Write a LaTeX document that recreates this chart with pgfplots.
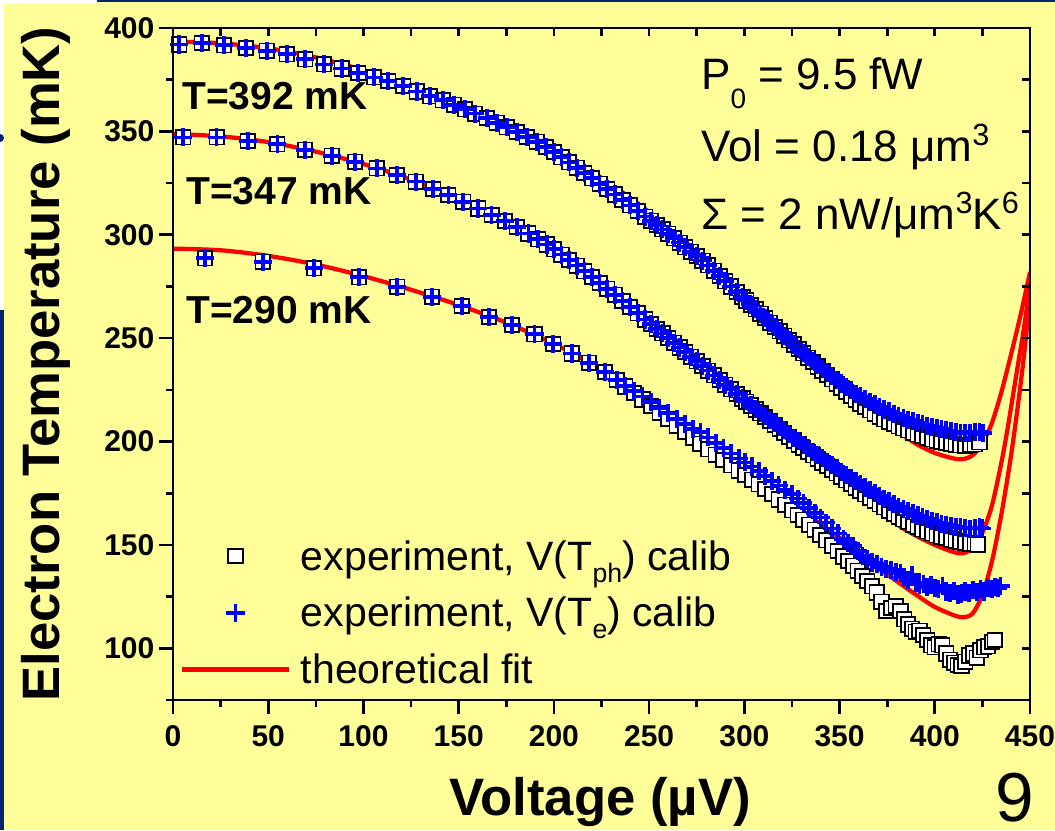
\documentclass[border=0pt]{standalone}
\usepackage{pgfplots}
\pgfplotsset{compat=1.18}
\usepackage{fontspec}
\setmainfont{Liberation Sans}
\definecolor{bg}{RGB}{255,255,153}
\definecolor{navy}{RGB}{0,36,112}
\definecolor{fitred}{RGB}{255,0,0}
\definecolor{plblue}{RGB}{0,0,255}
\newcommand\ticklabfont{\fontsize{22.5bp}{27bp}\selectfont\bfseries}
\newcommand\axlabfont{\fontsize{39.5bp}{46bp}\selectfont\bfseries}
\newcommand\annbfont{\fontsize{29.25bp}{35bp}\selectfont\bfseries}
\newcommand\annfont{\fontsize{33bp}{40bp}\selectfont}
\newcommand\legfont{\fontsize{30.75bp}{37bp}\selectfont}
\newcommand\lsub[1]{\raisebox{-9bp}{\fontsize{20bp}{20bp}\selectfont #1}}
\newcommand\asub[1]{\raisebox{-14bp}{\fontsize{21bp}{21bp}\selectfont #1}}
\newcommand\asup[1]{\raisebox{12bp}{\fontsize{23bp}{23bp}\selectfont #1}}
\begin{document}
\begin{tikzpicture}[x=0.75bp,y=0.75bp]
\fill[bg] (0,0) rectangle (1055,830);
\fill[white] (0,520) rectangle (4,830);
\fill[white] (0,827) rectangle (97,830);
\fill[navy] (0,0) rectangle (4,520);
\fill[navy] (97,827.5) rectangle (1055,830);
\fill[navy] (0,692) circle (4);
\begin{axis}[
  at={(129.75bp,97.5bp)}, anchor=south west,
  scale only axis, width=642.75bp, height=504bp,
  xmin=0, xmax=450, ymin=75, ymax=400,
  axis line style={line width=2bp},
  every tick/.style={black, line width=2bp},
  tick align=outside, xtick pos=left, ytick pos=left,
  major tick length=10.5bp, minor tick length=5.25bp,
  xtick={0,50,...,450}, minor xtick={25,75,...,425},
  ytick={100,150,...,400}, minor ytick={75,125,...,375},
  /pgf/number format/assume math mode=true,
  tick label style={font=\ticklabfont},
  xticklabel style={yshift=-5bp},
  legend cell align=left,
  legend image code/.code={\draw[mark repeat=2,mark phase=2,#1] plot coordinates {(0bp,2.5bp) (40bp,2.5bp) (80bp,2.5bp)};},
  legend style={at={(axis cs:3.7,153.3)}, anchor=north west, draw=none, fill=none,
    font=\legfont, inner sep=0pt, outer sep=0pt, row sep=10.5bp,
    nodes={inner sep=0pt, text height=24bp, text depth=8bp},
    /tikz/every odd column/.append style={column sep=7.5bp}},
  fitst/.style={fitred, line width=3.2bp, no markers, smooth},
  sqst/.style={only marks, mark=square*, mark size=5.4bp, mark options={fill=white, draw=black, line width=1.3bp}},
  plst/.style={only marks, mark=+, mark size=6.8bp, mark options={draw=plblue, line width=2.8bp}},
]
% theoretical fits
\addplot[fitst, forget plot] coordinates {(0,393.5)(25,392.6)(50,390.2)(75,385.8)(100,379.6)(125,372.0)(150,363.0)(175,353.0)(200,341.2)(225,327.5)(250,311.0)(275,292.5)(300,272.0)(325,251.0)(350,229.0)(365,217.0)(380,205.5)(390,199.0)(400,194.5)(410,191.8)(415,191.5)(420,193.5)(425,199.0)(430,209.0)(435,224.0)(440,242.0)(445,261.0)(450,282.0)};
\addplot[fitst, forget plot] coordinates {(0,348.7)(25,347.6)(50,344.8)(75,340.2)(100,334.2)(125,326.7)(150,317.6)(175,307.0)(200,294.0)(225,278.5)(250,261.0)(275,241.5)(300,221.0)(325,200.5)(350,181.0)(365,170.0)(380,160.0)(390,154.5)(400,150.0)(410,146.5)(415,146.0)(420,148.5)(425,156.0)(430,169.0)(435,190.0)(438,205.0)(441,222.0)(444,239.0)(447,256.0)(450,276.0)};
\addplot[fitst, forget plot] coordinates {(0,293.3)(25,292.5)(50,289.8)(75,285.6)(100,280.0)(125,273.4)(150,266.0)(175,257.5)(200,247.3)(225,235.0)(250,220.5)(275,204.0)(300,187.0)(325,170.0)(350,153.5)(365,142.5)(380,132.5)(390,126.0)(400,120.0)(410,116.0)(415,115.0)(420,117.0)(425,126.0)(430,142.0)(435,165.0)(440,193.0)(444,220.0)(447,243.0)(450,270.0)};
% squares: V(T_ph) calibration
\addplot[sqst] coordinates {(3.3,392.0)(15.1,392.8)(26.8,391.6)(38.3,390.3)(49.2,389.0)(59.7,387.3)(69.5,384.9)(79.3,382.4)(88.6,380.4)(97.3,378.3)(105.5,376.1)(113.0,374.3)(120.9,371.9)(128.0,369.3)(135.0,367.0)(141.6,365.0)(147.6,362.9)(153.3,360.7)(158.6,358.6)(164.7,356.5)(170.0,354.2)(175.2,352.0)(180.5,349.7)(185.7,347.3)(191.0,345.0)(195.9,342.4)
(200,340.0)(204,337.5)(208,335.0)(212,332.4)(216,329.9)(220,327.3)(224,324.7)(228,322.1)(232,319.5)(236,316.8)(240,314.2)(244,311.5)(248,308.8)(251,306.8)(254,304.7)(257,302.6)(260,300.5)(263,298.3)(266,296.2)(269,294.0)(272,291.8)(275,289.7)(278,287.5)(281,285.2)(284,282.6)(287,280.1)(290,277.5)(293,275.0)(296,272.4)(299,269.9)
(301,268.2)(303.5,266.0)(306,263.9)(308.5,261.8)(311,259.7)(313.5,257.5)(316,255.4)(318.5,253.3)(321,251.2)(323.5,249.0)(326,246.9)(328.5,244.8)(331,242.7)(333.5,240.5)(336,238.4)(338.5,236.3)(341,234.2)(343.5,232.1)(346,230.1)(348.5,228.0)(351,226.0)(353.5,224.1)(356,222.1)(358.5,220.2)(361,218.4)(363.5,216.7)(366,215.1)(368.5,213.5)(371,212.0)(373.5,210.8)(376,209.7)(378.5,208.5)(381,207.4)(383.5,206.4)(386,205.4)(388.5,204.4)(391,203.5)(393.5,202.7)(396,201.9)(398.5,201.1)(401,200.4)(403.5,199.9)(406,199.3)(408.5,198.8)(411,198.4)(413.5,198.2)(416,198.0)(418.5,198.3)(421,198.7)(423.5,199.6)};
\addlegendentry{experiment, V(T\lsub{ph}) calib}
\addplot[sqst, forget plot] coordinates {(5.4,347.1)(22.9,347.1)(39.2,345.4)(54.8,343.8)(69.3,341.1)(83.3,338.2)(95.6,335.3)(107.0,332.1)(117.5,328.9)(127.4,325.7)(136.7,322.2)(144.6,319.2)(152.4,316.0)(160.3,312.7)(167.3,309.6)(174.3,306.6)(180.5,303.7)(186.6,300.6)(191.8,297.8)(196.2,295.3)
(200,293.0)(204,290.4)(208,287.8)(212,285.1)(216,282.3)(220,279.5)(224,276.7)(228,273.9)(232,271.0)(236,268.0)(240,265.0)(244,262.0)(248,259.0)(251,256.8)(254,254.5)(257,252.3)(260,250.0)(263,247.8)(266,245.5)(269,243.3)(272,241.0)(275,238.8)(278,236.5)(281,234.3)(284,232.0)(287,229.8)(290,227.5)(293,225.3)(296,223.0)(299,220.8)
(301,219.3)(303.5,217.4)(306,215.5)(308.5,213.6)(311,211.8)(313.5,209.9)(316,208.0)(318.5,206.1)(321,204.3)(323.5,202.4)(326,200.5)(328.5,198.6)(331,196.8)(333.5,195.0)(336,193.3)(338.5,191.6)(341,189.8)(343.5,188.1)(346,186.3)(348.5,184.6)(351,182.8)(353.5,181.2)(356,179.5)(358.5,177.8)(361,176.2)(363.5,174.5)(366,172.9)(368.5,171.3)(371,169.7)(373.5,168.2)(376,166.6)(378.5,165.1)(381,163.7)(383.5,162.4)(386,161.1)(388.5,159.8)(391,158.6)(393.5,157.6)(396,156.6)(398.5,155.6)(401,154.7)(403.5,154.0)(406,153.3)(408.5,152.6)(411,152.0)(413.5,151.5)(416,151.1)(418.5,150.7)(421,150.4)(422.5,150.2)};
\addplot[sqst, forget plot] coordinates {(16.8,288.6)(47.1,287.0)(74.0,283.8)(97.7,279.4)(117.8,274.9)(136.0,270.0)(151.6,265.5)(166.0,260.2)(178.0,256.4)(189.8,251.9)(199.7,247.2)(209.4,242.6)(218.4,238.1)(226.8,233.7)(233.0,229.8)
(237.5,226.6)(242,223.5)(246.5,220.3)(251,217.2)(255.5,214.0)(260,210.9)(264.5,207.7)(269,204.6)(273,201.8)(277,199.0)(281,196.3)(285,193.6)(289,191.0)(293,188.5)(297,186.0)(300.5,183.8)(304,181.6)(307.5,179.3)(311,177.0)(314.5,174.6)(318,172.0)(321.5,169.4)(325,166.8)(328,164.5)(331,162.2)(334,159.8)(337,157.3)(340,154.8)(343,152.3)(346,149.7)(349,147.1)(352,144.4)(354.5,142.2)(357,139.9)(359.5,137.5)(362,135.0)(364.5,132.5)(367,130.0)(369.5,127.0)(372,122.5)(374.5,118.0)(377,119.5)(379.5,120.5)(382,118.0)(384,114.0)(386,111.5)(388,109.5)(390,108.0)(392,108.5)(394,106.5)(396,104.0)(398,101.5)(400,100.5)(402,102.0)(404,101.5)(406,97.5)(408,94.5)(410,93.0)(412,92.0)(414,91.5)(416,93.5)(418,96.5)(420,97.5)(422,95.5)(424,99.0)(426,100.5)(428,101.0)(430,103.0)(431.5,104.0)};
% plus: V(T_e) calibration
\addplot[plst] coordinates {(3.3,392.0)(15.1,392.8)(26.8,391.6)(38.3,390.3)(49.2,389.0)(59.7,387.3)(69.5,384.9)(79.3,382.4)(88.6,380.4)(97.3,378.3)(105.5,376.1)(113.0,374.3)(120.9,371.9)(128.0,369.3)(135.0,367.0)(141.6,365.0)(147.6,362.9)(153.3,360.7)(158.6,358.6)(164.7,356.5)(170.0,354.2)(175.2,352.0)(180.5,349.7)(185.7,347.3)(191.0,345.0)(195.9,342.4)
(200,340.0)(204,337.5)(208,335.0)(212,332.4)(216,329.9)(220,327.3)(224,324.7)(228,322.1)(232,319.5)(236,316.8)(240,314.2)(244,311.5)(248,308.8)(251,306.8)(254,304.7)(257,302.6)(260,300.5)(263,298.3)(266,296.2)(269,294.0)(272,291.8)(275,289.7)(278,287.5)(281,285.2)(284,282.6)(287,280.1)(290,277.5)(293,275.0)(296,272.4)(299,269.9)
(301,268.2)(303.5,266.0)(306,263.9)(308.5,261.8)(311,259.7)(313.5,257.5)(316,255.4)(318.5,253.3)(321,251.2)(323.5,249.0)(326,246.9)(328.5,244.8)(331,242.8)(333.5,240.8)(336,238.8)(338.5,236.9)(341,235.2)(343.5,233.4)(346,231.7)(348.5,229.9)(351,228.1)(353.5,226.5)(356,224.8)(358.5,223.2)(361,221.8)(363.5,220.4)(366,219.2)(368.5,217.9)(371,216.6)(373.5,215.5)(376,214.5)(378.5,213.4)(381,212.4)(383.5,211.5)(386,210.6)(388.5,209.8)(391,208.9)(393.5,208.3)(396,207.7)(398.5,207.0)(401,206.4)(403.5,205.9)(406,205.4)(408.5,204.9)(411,204.5)(413.5,204.3)(416,204.2)(418.5,204.3)(421,204.5)(423.5,204.6)(425.5,204.3)};
\addlegendentry{experiment, V(T\lsub{e}) calib}
\addplot[plst, forget plot] coordinates {(5.4,347.1)(22.9,347.1)(39.2,345.4)(54.8,343.8)(69.3,341.1)(83.3,338.2)(95.6,335.3)(107.0,332.1)(117.5,328.9)(127.4,325.7)(136.7,322.2)(144.6,319.2)(152.4,316.0)(160.3,312.7)(167.3,309.6)(174.3,306.6)(180.5,303.7)(186.6,300.6)(191.8,297.8)(196.2,295.3)
(200,293.0)(204,290.4)(208,287.8)(212,285.1)(216,282.3)(220,279.5)(224,276.7)(228,273.9)(232,271.0)(236,268.0)(240,265.0)(244,262.0)(248,259.0)(251,256.8)(254,254.5)(257,252.3)(260,250.0)(263,247.8)(266,245.5)(269,243.3)(272,241.0)(275,238.8)(278,236.5)(281,234.3)(284,232.0)(287,229.8)(290,227.5)(293,225.3)(296,223.0)(299,220.8)
(301,219.4)(303.5,217.6)(306,215.8)(308.5,214.0)(311,212.4)(313.5,210.6)(316,208.8)(318.5,207.0)(321,205.4)(323.5,203.6)(326,201.8)(328.5,200.1)(331,198.4)(333.5,196.7)(336,195.1)(338.5,193.5)(341,191.9)(343.5,190.3)(346,188.7)(348.5,187.1)(351,185.4)(353.5,183.9)(356,182.4)(358.5,180.9)(361,179.3)(363.5,177.8)(366,176.4)(368.5,175.0)(371,173.7)(373.5,172.4)(376,171.0)(378.5,169.7)(381,168.5)(383.5,167.4)(386,166.3)(388.5,165.2)(391,164.2)(393.5,163.3)(396,162.6)(398.5,161.6)(401,160.9)(403.5,160.3)(406,159.6)(408.5,159.1)(411,158.6)(413.5,158.4)(416,158.0)(418.5,157.9)(421,158.2)(423.5,158.4)(425,158.0)};
\addplot[plst, forget plot] coordinates {(16.8,288.6)(47.1,287.0)(74.0,283.8)(97.7,279.4)(117.8,274.9)(136.0,270.0)(151.6,265.5)(166.0,260.2)(178.0,256.4)(189.8,251.9)(199.7,247.2)(209.4,242.6)(218.4,238.1)(226.8,233.7)(233.0,229.8)
(237.5,227.0)(242,224.5)(246.5,221.8)(251,219.1)(255.5,216.3)(260,213.6)(264.5,211.0)(269,208.4)(273,206.2)(277,204.5)(281,202.0)(285,199.4)(289,196.8)(293,194.2)(297,191.8)(300.5,189.9)(304,187.9)(307.5,185.7)(311,183.4)(314.5,181.0)(318,178.8)(321.5,176.5)(325,174.6)(328,172.4)(331,170.2)(334,168.0)(337,165.5)(340,163.2)(343,160.8)(346,158.0)(349,155.5)(352,153.0)(354.5,151.0)(357,149.5)(359.5,147.0)(362,144.8)(364.5,143.0)(367,141.5)(369.5,140.8)(372,139.5)(374.5,138.5)(377,137.8)(379.5,136.8)(382,136.3)(384,134.5)(386,133.0)(388,135.5)(390,131.5)(392,130.8)(394,131.0)(396,129.5)(398,130.5)(400,129.0)(402,128.5)(404,130.0)(406,127.5)(408,126.8)(410,127.8)(412,126.0)(414,126.5)(416,127.5)(418,126.8)(420,128.0)(422,127.2)(424,128.5)(426,127.5)(428,129.0)(430,128.5)(431.5,129.5)(433,129.0)(434.5,130.0)};
\addlegendimage{fitred, line width=3.2bp, no markers}
\addlegendentry{theoretical fit}
\end{axis}
\begin{axis}[
  at={(129.75bp,97.5bp)}, anchor=south west,
  scale only axis, width=642.75bp, height=504bp,
  xmin=0, xmax=450, ymin=75, ymax=400,
  axis line style={line width=2bp},
  every tick/.style={black, line width=2bp},
  tick align=inside, xtick pos=right, ytick pos=right,
  major tick length=6bp,
  xtick={0,25,...,450}, ytick={75,100,...,400},
  xticklabels={}, yticklabels={},
]
\end{axis}
% annotations
\node[anchor=base west, font=\annbfont, inner sep=0pt] at (182,720) {T=392 mK};
\node[anchor=base west, font=\annbfont, inner sep=0pt] at (186,625) {T=347 mK};
\node[anchor=base west, font=\annbfont, inner sep=0pt] at (186,507) {T=290 mK};
\node[anchor=base west, font=\annfont, inner sep=0pt] at (701,740) {P\asub{0} = 9.5 fW};
\node[anchor=base west, font=\annfont, inner sep=0pt] at (701,668) {Vol = 0.18 μm\asup{3}};
\node[anchor=base west, font=\annfont, inner sep=0pt] at (701,600) {Σ = 2 nW/μm\asup{3}K\asup{6}};
\node[anchor=base, font=\axlabfont, inner sep=0pt, rotate=90] at (59,466) {Electron Temperature (mK)};
\node[anchor=base, font=\axlabfont, inner sep=0pt] at (600,15) {Voltage (µV)};
\node[anchor=base, inner sep=0pt, font=\fontsize{52bp}{58bp}\selectfont] at (1015,9) {9};
\pgfresetboundingbox
\path[use as bounding box] (0,0) rectangle (1055,830);
\end{tikzpicture}
\end{document}
